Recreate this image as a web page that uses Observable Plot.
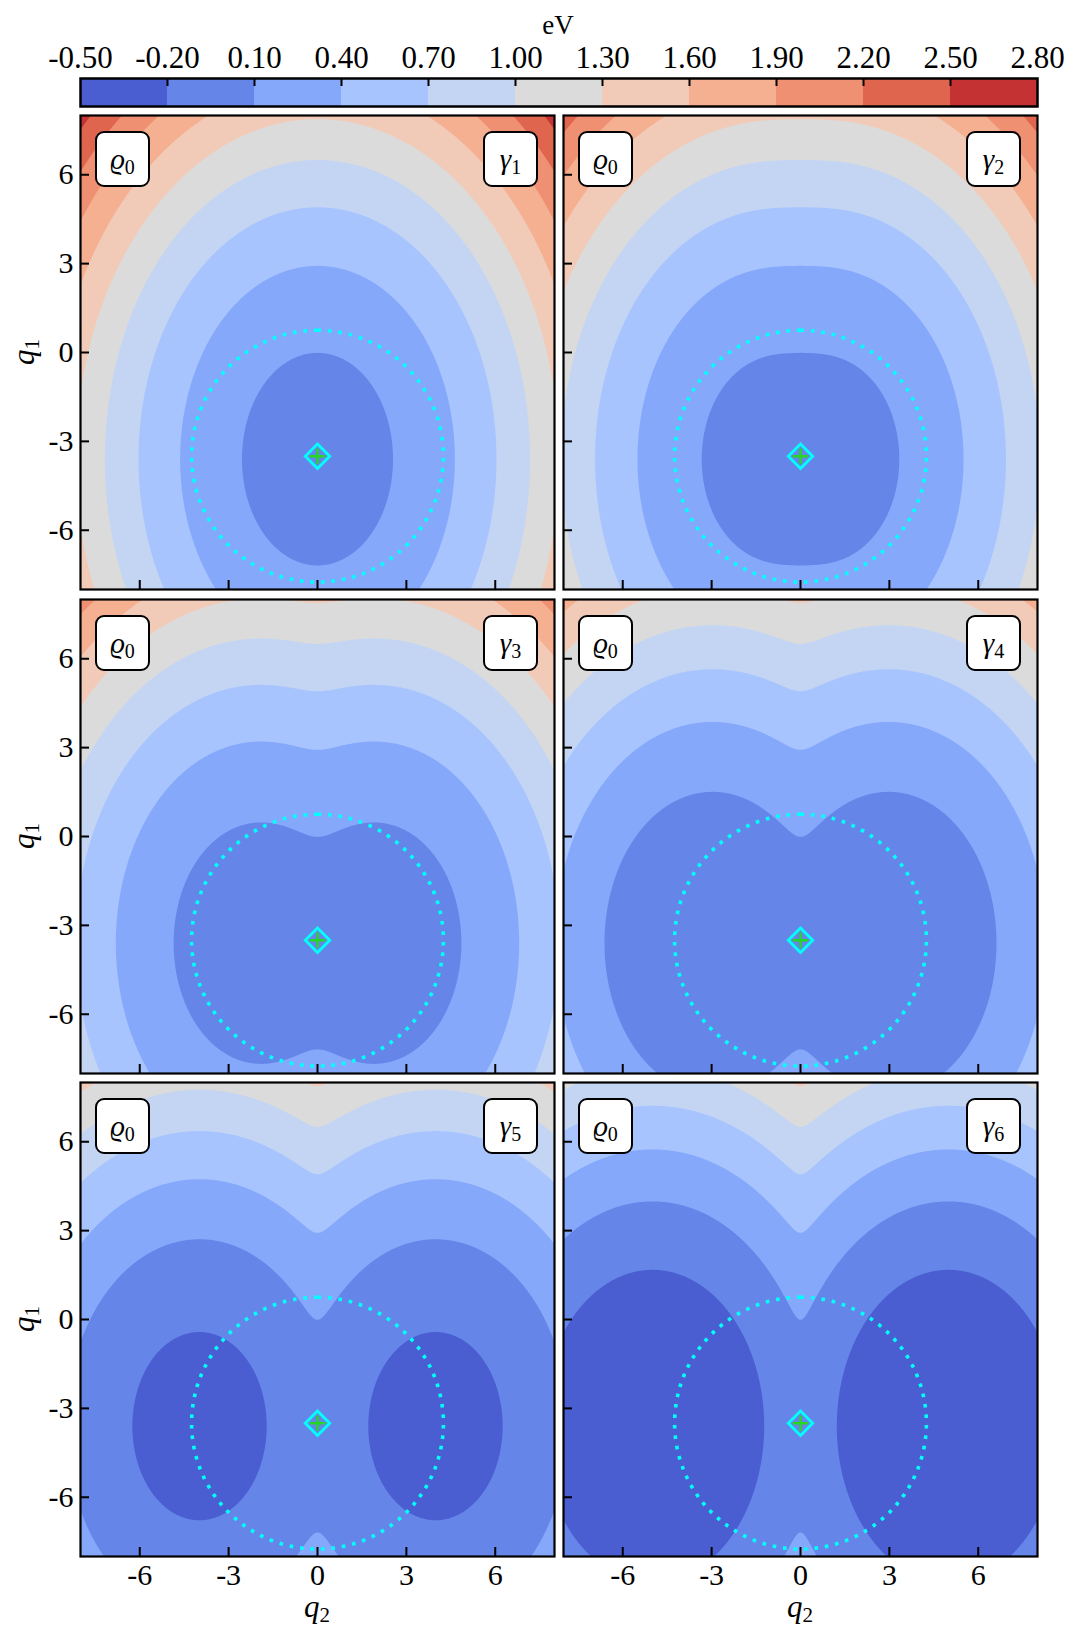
<!DOCTYPE html>
<html>
<head>
<meta charset="utf-8">
<script src="https://cdn.jsdelivr.net/npm/d3@7"></script>
<script src="https://cdn.jsdelivr.net/npm/@observablehq/plot@0.6"></script>
<style>
  html, body { margin: 0; padding: 0; background: #fff; }
  #root { position: relative; width: 1072px; height: 1631px; background: #fff; overflow: hidden;
          font-family: "Liberation Serif", "DejaVu Serif", serif; }
  #root svg { position: absolute; }
  .tag { position: absolute; box-sizing: border-box; width: 55px; height: 56px; border: 2.5px solid #000;
         border-radius: 9px; background: #fff; display: flex; align-items: center; justify-content: center;
         font-size: 29px; line-height: 1; }
  .tag span { display: inline-block; white-space: nowrap; }
  .tag i, .lab i { font-style: italic; }
  .tag sub { font-size: 20px; vertical-align: -5px; font-style: normal; line-height: 0; }
  .lab { position: absolute; font-size: 31px; line-height: 1; white-space: nowrap; }
  .lab sub { font-size: 21px; vertical-align: -5px; line-height: 0; }
  .ev { position: absolute; font-size: 27px; line-height: 1; left: 558px; top: 25px; transform: translate(-50%, -50%); }
</style>
</head>
<body>
<div id="root"></div>
<script>
// ---------------- data ----------------
// colour levels (eV) and the colours of the 11 bands between them
const levels = [-0.50, -0.20, 0.10, 0.40, 0.70, 1.00, 1.30, 1.60, 1.90, 2.20, 2.50, 2.80];
const levelColors = ["#4a5ed1", "#6586e8", "#86a8fa", "#a7c4fe", "#c4d5f3", "#dbdbdb",
                     "#f2cbb8", "#f5b092", "#f09072", "#e0654f", "#c43233"];
const unitLabel = "eV";
// panel labels
const stateLabel = "ϱ";
const stateIndex = 0;
const modeLabel = "γ";
const modeIndex = [1, 2, 3, 4, 5, 6];
const modeKappa = [0.00, 0.04, 0.08, 0.12, 0.16, 0.20];
// two-state surface parameters
const refEnergy = 0.02;     // diabatic energy at the reference point (eV)
const halfOmega2 = 0.020;   // curvature along q2
const halfOmega1 = 0.0101;  // curvature along q1
const q1Center = -3.6;      // q1 of the minimum
const diabCoupling = 0.05;  // constant inter-state coupling (eV)
// reference geometry marker and dotted circle
const refQ2 = 0.0, refQ1 = -3.5, circleRadius = 4.25;
// axis ticks
const axisTicks = [-6, -3, 0, 3, 6];
const axisDomain = [-8, 8];

// ---------------- helpers ----------------
function lowerSurface(q2, q1, kappa) {
  const mean = refEnergy + halfOmega2 * q2 * q2 + halfOmega1 * (q1 - q1Center) ** 2;
  const half = kappa * q2;
  return mean - Math.sqrt(half * half + diabCoupling * diabCoupling);
}
const colorScale = {type: "threshold", domain: levels.slice(1, -1), range: levelColors};
const root = document.getElementById("root");
const fontStyle = {background: "transparent", fontFamily: "'Liberation Serif', 'DejaVu Serif', serif", color: "#000"};

// ---------------- colour bar ----------------
const cbLeft = 80, cbRight = 1037, cbTop = 78, cbH = 28;
const bands = levelColors.map((c, i) => ({lo: levels[i], hi: levels[i + 1]}));
const cb = Plot.plot({
  width: 1072, height: cbTop + cbH + 4,
  marginLeft: cbLeft, marginRight: 1072 - cbRight, marginTop: cbTop, marginBottom: 4,
  style: fontStyle,
  x: {domain: [levels[0], levels[levels.length - 1]], axis: null},
  y: {axis: null},
  color: colorScale,
  marks: [
    Plot.rect(bands, {x1: "lo", x2: "hi", fill: "lo"}),
    Plot.ruleX(levels.slice(1, -1), {x: d => d, insetBottom: cbH - 8, stroke: "#000", strokeWidth: 2}),
    Plot.frame({stroke: "#000", strokeWidth: 2.5}),
    Plot.axisX(levels, {anchor: "top", tickSize: 0, tickPadding: 11, fontSize: 31,
                        tickFormat: d => d.toFixed(2), label: null})
  ]
});
cb.style.left = "0px"; cb.style.top = "0px";
root.appendChild(cb);
const ev = document.createElement("div");
ev.className = "ev"; ev.textContent = unitLabel;
root.appendChild(ev);

// ---------------- panels ----------------
const colX = [80, 563], rowY = [115, 599, 1082], size = 474;
const mL = 70, mR = 4, mT = 4, mB = 50;
const circle = d3.range(0, 721).map(i => {
  const a = Math.PI / 2 + i / 720 * 2 * Math.PI;
  return {q2: refQ2 + circleRadius * Math.cos(a), q1: refQ1 + circleRadius * Math.sin(a)};
});

modeKappa.forEach((kappa, i) => {
  const col = i % 2, row = Math.floor(i / 2);
  const marks = [
    Plot.contour({
      fill: (x, y) => lowerSurface(x, y, kappa),
      x1: axisDomain[0], x2: axisDomain[1], y1: axisDomain[0], y2: axisDomain[1],
      thresholds: levels, pixelSize: 1, stroke: "none"
    }),
    Plot.line(circle, {x: "q2", y: "q1", stroke: "#00ffff", strokeWidth: 3.6,
                       strokeDasharray: "3.6,6.9", strokeLinecap: "butt"}),
    Plot.dot([{q2: refQ2, q1: refQ1}], {x: "q2", y: "q1", symbol: "diamond2", r: 11,
                                        stroke: "#00ffff", strokeWidth: 2.8, fill: "none"}),
    Plot.dot([{q2: refQ2, q1: refQ1}], {x: "q2", y: "q1", symbol: "plus", r: 5,
                                        stroke: "#22d822", strokeWidth: 2.4}),
    Plot.ruleX(axisTicks, {x: d => d, insetTop: size - 9, stroke: "#000", strokeWidth: 2}),
    Plot.ruleY(axisTicks, {y: d => d, insetRight: size - 9, stroke: "#000", strokeWidth: 2}),
    Plot.frame({stroke: "#000", strokeWidth: 2.2})
  ];
  if (col === 0) marks.push(Plot.axisY(axisTicks, {anchor: "left", tickSize: 0, tickPadding: 7,
                                                    fontSize: 30, tickFormat: d => String(d), label: null}));
  if (row === 2) marks.push(Plot.axisX(axisTicks, {anchor: "bottom", tickSize: 0, tickPadding: 7,
                                                   fontSize: 30, tickFormat: d => String(d), label: null}));
  const svg = Plot.plot({
    width: size + mL + mR, height: size + mT + mB,
    marginLeft: mL, marginRight: mR, marginTop: mT, marginBottom: mB,
    style: fontStyle,
    x: {domain: axisDomain, axis: null},
    y: {domain: axisDomain, axis: null},
    color: colorScale,
    marks
  });
  svg.style.left = (colX[col] - mL) + "px";
  svg.style.top = (rowY[row] - mT) + "px";
  root.appendChild(svg);

  // label boxes
  const t1 = document.createElement("div");
  t1.className = "tag";
  t1.style.left = (colX[col] + 15) + "px"; t1.style.top = (rowY[row] + 16) + "px";
  t1.innerHTML = `<span><i>${stateLabel}</i><sub>${stateIndex}</sub></span>`;
  root.appendChild(t1);
  const t2 = document.createElement("div");
  t2.className = "tag";
  t2.style.left = (colX[col] + size - 16 - 55) + "px"; t2.style.top = (rowY[row] + 16) + "px";
  t2.innerHTML = `<span><i>${modeLabel}</i><sub>${modeIndex[i]}</sub></span>`;
  root.appendChild(t2);
});

// axis titles
rowY.forEach(y => {
  const d = document.createElement("div");
  d.className = "lab";
  d.innerHTML = "<i>q</i><sub>1</sub>";
  d.style.left = "23px"; d.style.top = (y + size / 2) + "px";
  d.style.transform = "translate(-50%, -50%) rotate(-90deg)";
  root.appendChild(d);
});
colX.forEach(x => {
  const d = document.createElement("div");
  d.className = "lab";
  d.innerHTML = "<i>q</i><sub>2</sub>";
  d.style.left = (x + size / 2) + "px"; d.style.top = "1606px";
  d.style.transform = "translate(-50%, -50%)";
  root.appendChild(d);
});
</script>
</body>
</html>
